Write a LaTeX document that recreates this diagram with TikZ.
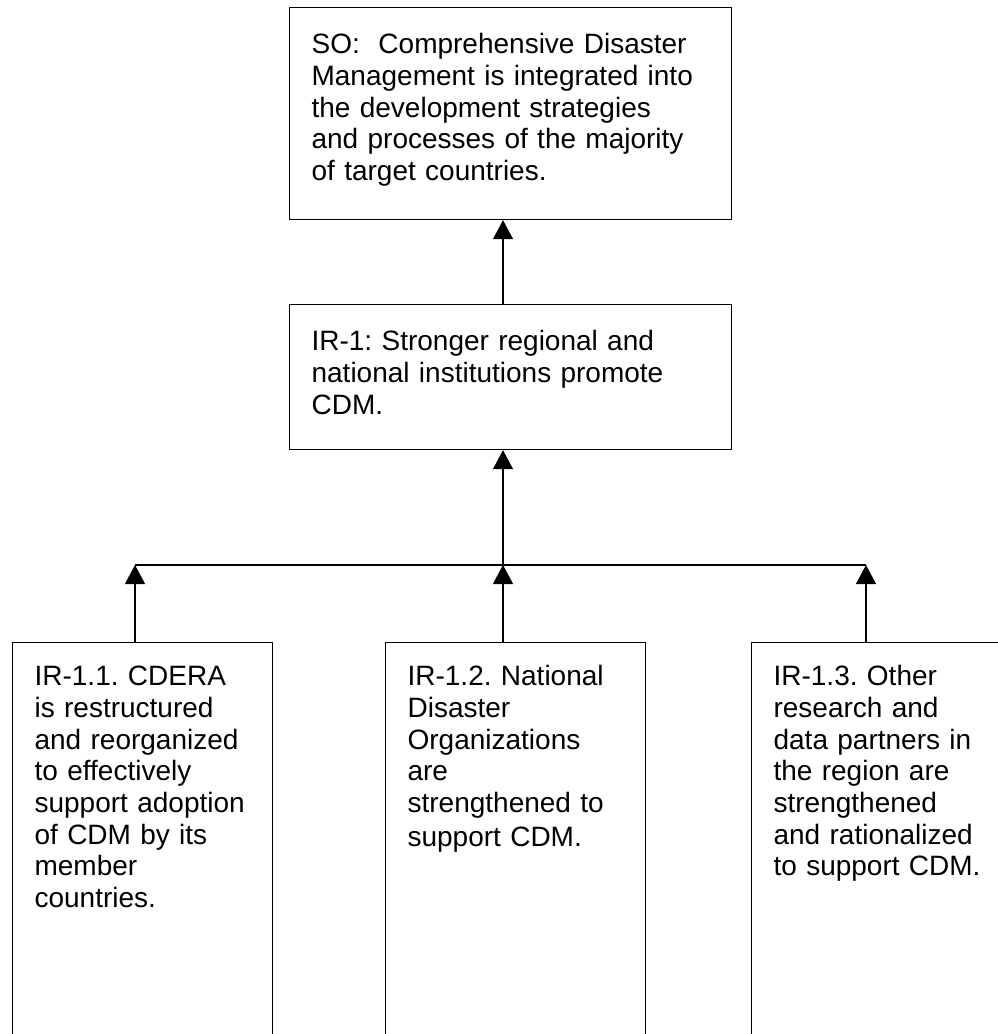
\documentclass[tikz,border=0pt]{standalone}
\usepackage{fontspec}
\setmainfont{Liberation Sans}
\usetikzlibrary{arrows.meta}
\frenchspacing
\begin{document}
\begin{tikzpicture}[x=1pt,y=-1pt,
    goalbox/.style={draw, line width=1.2pt, anchor=north west, align=left, text width=#1,
        inner xsep=22pt, inner ysep=0pt, font=\fontsize{28pt}{31.7pt}\selectfont},
    goalbox/.default=216pt,
    upto/.style={-{Triangle[width=20pt,length=19pt]}, line width=1.2pt}]
    \useasboundingbox (0,0) rectangle (998,1034);
    \clip (0,0) rectangle (998,1034);

    \node[goalbox=398pt, text height=46pt, text depth=166pt] at (289,7) (so) {SO:~ Comprehensive Disaster\\Management is integrated into\\the development strategies\\and processes of the majority\\of target countries.};
    \node[goalbox=398pt, text height=46pt, text depth=99pt] at (289,304) (ir1) {IR-1: Stronger regional and\\national institutions promote\\CDM.};

    \node[goalbox, text height=43pt, text depth=420pt] at (12,642) (ir11) {IR-1.1. CDERA\\is restructured\\and reorganized\\to effectively\\support adoption\\of CDM by its\\member\\countries.};
    \node[goalbox, text height=43pt, text depth=420pt] at (385,642) (ir12) {IR-1.2. National\\Disaster\\Organizations\\are\\strengthened to\\[2pt]support CDM.};
    \node[goalbox, text height=43pt, text depth=420pt] at (751,642) (ir13) {IR-1.3. Other\\research and\\data partners in\\the region are\\strengthened\\and rationalized\\to support CDM.};

    \coordinate (j1) at (135,565);
    \coordinate (j2) at (503,565);
    \coordinate (j3) at (866,565);
    \draw[line width=1.2pt] (j1) -- (j3);
    \draw[upto] (ir11.north -| j1) -- (j1);
    \draw[upto] (ir12.north -| j2) -- (j2);
    \draw[upto] (ir13.north -| j3) -- (j3);
    \draw[upto] (j2) -- (ir1.south -| j2);
    \draw[upto] (ir1.north -| j2) -- (so.south -| j2);
\end{tikzpicture}
\end{document}
